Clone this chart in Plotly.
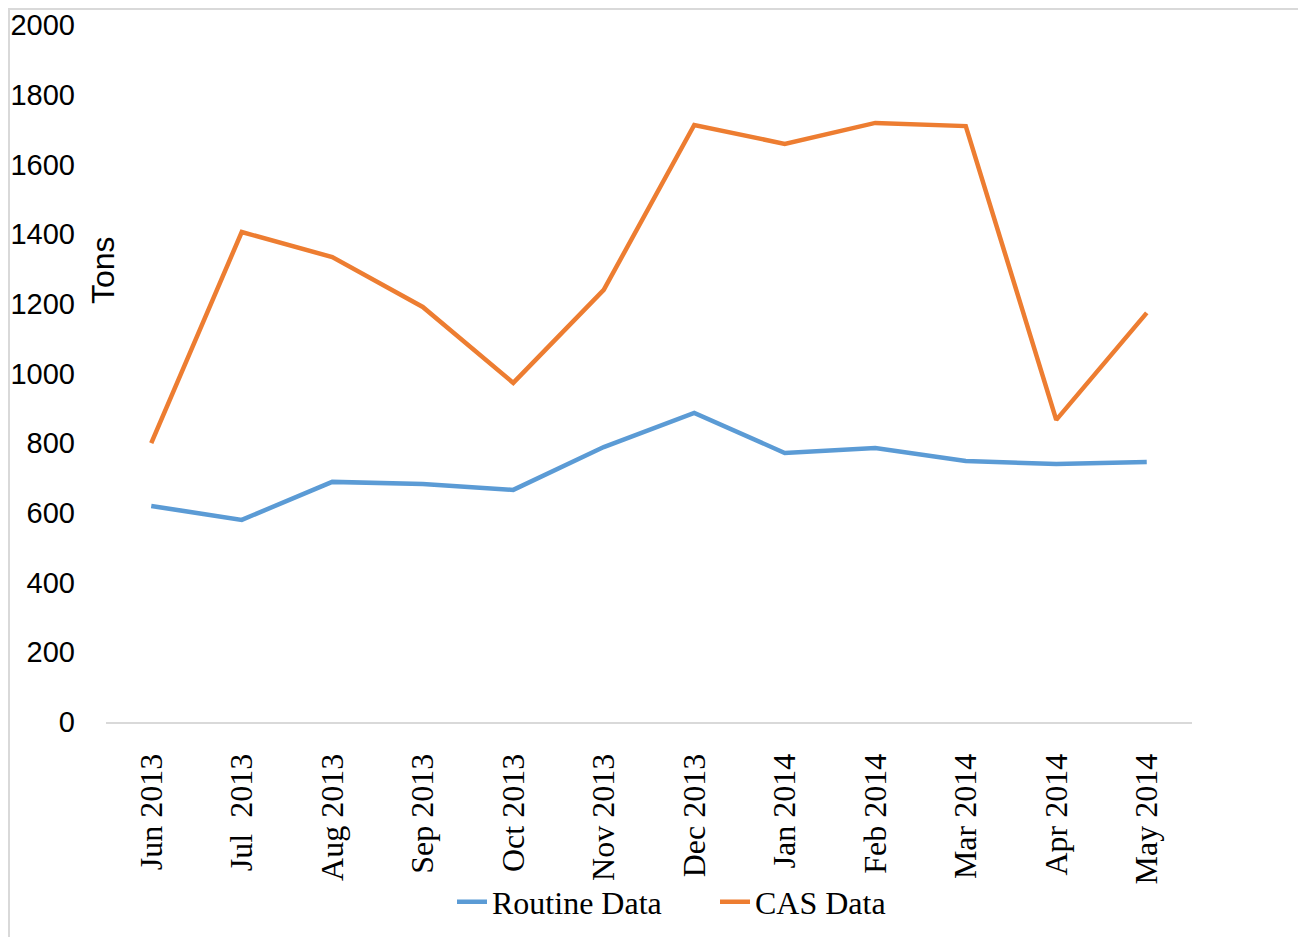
import plotly.graph_objects as go

months = ["Jun 2013", "Jul  2013", "Aug 2013", "Sep 2013", "Oct 2013", "Nov 2013",
          "Dec 2013", "Jan 2014", "Feb 2014", "Mar 2014", "Apr 2014", "May 2014"]
routine = [620, 580, 689, 683, 666, 789, 887, 772, 786, 749, 740, 746]
cas = [800, 1406, 1334, 1191, 973, 1240, 1713, 1659, 1719, 1710, 867, 1174]
y_ticks = list(range(0, 2001, 200))

OFF = 8  # page body margin
W, H = 1306 - OFF, 937 - OFF
# plot area in screen pixels: x 106..1192, y 25..722
L = 106 - OFF
T = 25 - OFF
pw = 1192 - 106
ph = 722 - 25
R = W - L - pw
B = H - T - ph

def px_x(p):
    return (p - OFF - L) / pw

def px_y(p):
    return (T + ph - (p - OFF)) / ph

fig = go.Figure()
fig.add_trace(go.Scatter(x=months, y=routine, mode="lines", name="Routine Data",
                         line=dict(color="#5B9BD5", width=4.5)))
fig.add_trace(go.Scatter(x=months, y=cas, mode="lines", name="CAS Data",
                         line=dict(color="#ED7D31", width=4.5)))

fig.update_layout(
    width=W, height=H,
    margin=dict(l=L, r=R, t=T, b=B, autoexpand=False),
    paper_bgcolor="white", plot_bgcolor="white",
    showlegend=True,
    legend=dict(orientation="h", x=px_x(715), xanchor="center", y=px_y(902), yanchor="middle",
                font=dict(family="Liberation Serif", size=32, color="black"),
                bgcolor="rgba(0,0,0,0)",
                entrywidth=218, tracegroupgap=0),
    xaxis=dict(type="category", range=[-0.5, 11.5], showgrid=False, zeroline=False,
               showline=True, linecolor="#D9D9D9", linewidth=2, automargin=False,
               tickangle=-90, ticks="", ticklabelstandoff=17,
               tickfont=dict(family="Liberation Serif", size=32, color="black")),
    yaxis=dict(range=[0, 2000], tickvals=y_ticks, showgrid=False, zeroline=False,
               showline=False, ticks="", ticklabelstandoff=30, automargin=False,
               tickfont=dict(family="Liberation Sans", size=29, color="black")),
    annotations=[dict(text="Tons", xref="paper", yref="paper", x=px_x(103), y=px_y(270),
                      xanchor="center", yanchor="middle",
                      showarrow=False, textangle=-90,
                      font=dict(family="Liberation Sans", size=32, color="black"))],
    shapes=[dict(type="rect", xref="paper", yref="paper",
                 x0=px_x(9), x1=px_x(1303), y0=px_y(950), y1=px_y(9),
                 line=dict(color="#D9D9D9", width=2), layer="below")],
)

fig.write_html("out.html")
